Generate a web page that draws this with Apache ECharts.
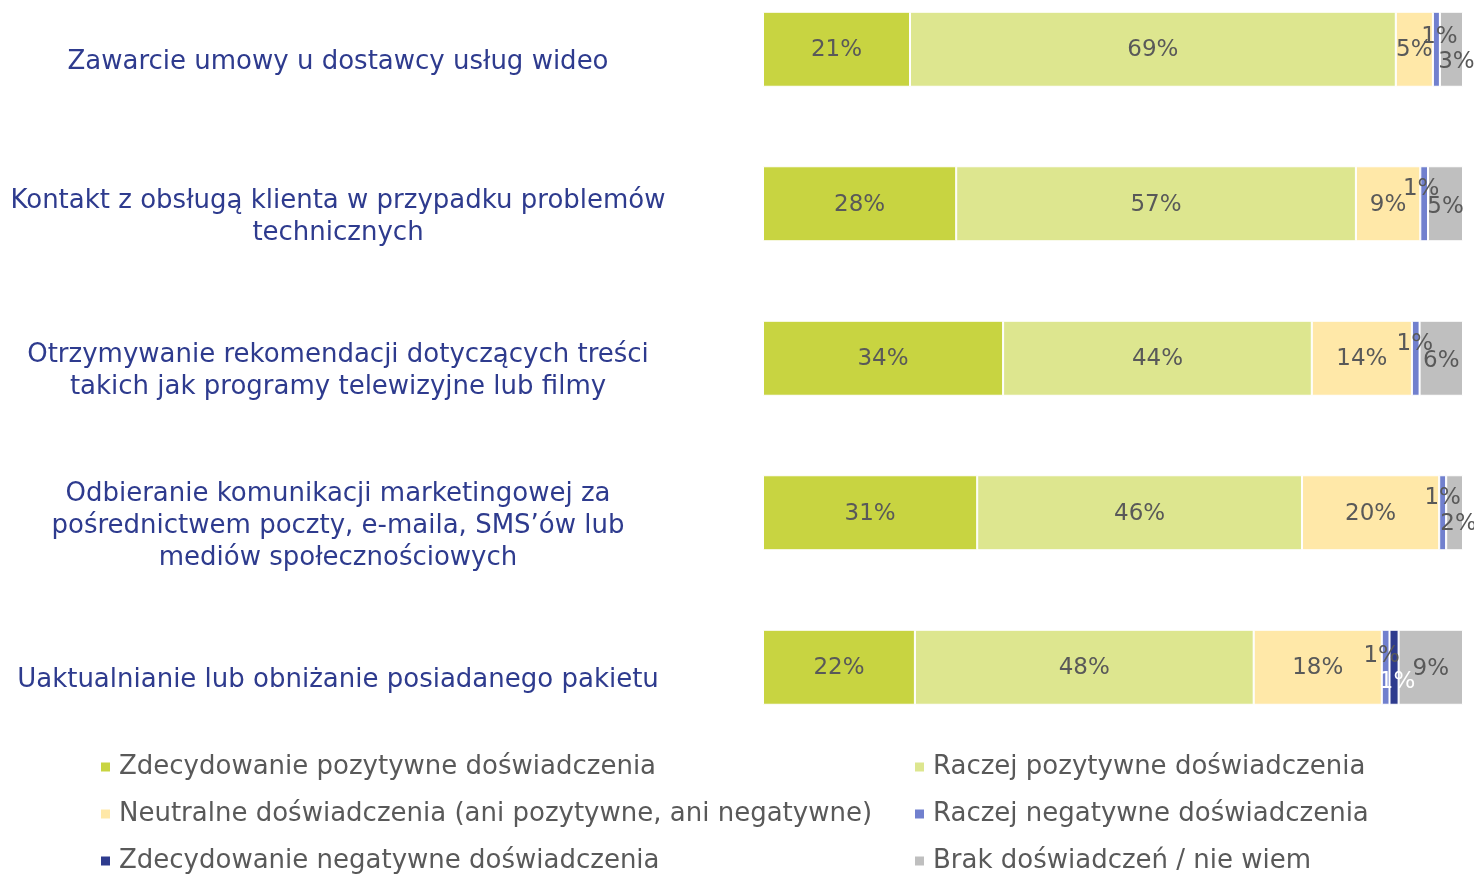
<!DOCTYPE html>
<html>
<head>
<meta charset="utf-8">
<script src="https://cdn.jsdelivr.net/npm/echarts@6/dist/echarts.min.js"></script>
<style>
  html, body { margin: 0; padding: 0; background: #ffffff; }
  #chart { width: 1474px; height: 875px; }
</style>
</head>
<body>
<div id="chart"></div>
<script>
// Survey items (top to bottom)
const categories = [
  'Zawarcie umowy u dostawcy usług wideo',
  'Kontakt z obsługą klienta w przypadku problemów\ntechnicznych',
  'Otrzymywanie rekomendacji dotyczących treści\ntakich jak programy telewizyjne lub filmy',
  'Odbieranie komunikacji marketingowej za\npośrednictwem poczty, e-maila, SMS’ów lub\nmediów społecznościowych',
  'Uaktualnianie lub obniżanie posiadanego pakietu'
];

const seriesNames = [
  'Zdecydowanie pozytywne doświadczenia',
  'Raczej pozytywne doświadczenia',
  'Neutralne doświadczenia (ani pozytywne, ani negatywne)',
  'Raczej negatywne doświadczenia',
  'Zdecydowanie negatywne doświadczenia',
  'Brak doświadczeń / nie wiem'
];

// Shares in percent, one value per survey item
const veryPositive   = [21.0, 27.6, 34.3, 30.6, 21.7];
const ratherPositive = [69.4, 57.1, 44.1, 46.4, 48.4];
const neutral        = [5.3, 9.2, 14.3, 19.6, 18.3];
const ratherNegative = [1.0, 1.1, 1.1, 1.0, 1.1];
const veryNegative   = [0, 0, 0, 0, 1.3];
const noExperience   = [3.3, 5.0, 6.2, 2.4, 9.2];

const seriesValues = [veryPositive, ratherPositive, neutral, ratherNegative, veryNegative, noExperience];

const colors = ['#C8D441', '#DDE68F', '#FFE8A8', '#7180CE', '#2E3B8E', '#BFBFBF'];
const FONT = 'DejaVu Sans';

// Nudges for labels of the thin segments so they do not overlap
const labelShift = {
  3: [[3, -13], [-3, -16], [-1, -15], [0, -16], [-4, -12]],
  4: [null, null, null, null, [3, 14]],
  5: [[5, 12], [0, 2], [0, 2], [4, 10], [0, 1]]
};

const series = seriesValues.map((vals, si) => ({
  name: seriesNames[si],
  type: 'bar',
  stack: 'total',
  barWidth: 75,
  xAxisIndex: 0,
  yAxisIndex: 0,
  itemStyle: { color: colors[si], borderColor: '#ffffff', borderWidth: 1 },
  label: {
    show: true,
    position: 'inside',
    fontFamily: FONT,
    fontSize: 23,
    color: si === 4 ? '#ffffff' : '#595959',
    formatter: p => (p.value > 0 ? Math.round(p.value) + '%' : '')
  },
  labelLayout: p => {
    const s = labelShift[si] && labelShift[si][p.dataIndex];
    return s ? { dx: s[0], dy: s[1] + 1 } : { dy: 1 };
  },
  data: vals
}));

// Legend: two columns, three rows
const legendCols = [99, 913];
const legendRows = [752, 799, 846];
const legends = seriesNames.map((name, i) => ({
  data: [name],
  left: legendCols[i % 2],
  top: legendRows[Math.floor(i / 2)],
  itemWidth: 11,
  itemHeight: 11,
  icon: 'rect',
  selectedMode: false,
  padding: 0,
  textStyle: {
    fontFamily: FONT, fontSize: 26, color: '#595959',
    lineHeight: 30, padding: [0, 0, 0, 3]
  }
}));

const chart = echarts.init(document.getElementById('chart'));
chart.setOption({
  animation: false,
  color: colors,
  grid: [
    // bars
    { left: 763, width: 700, top: -28, height: 772.5, outerBoundsMode: 'none', containLabel: false },
    // item names, set slightly lower than the bar centres
    { left: 763, width: 700, top: -15, height: 772.5, outerBoundsMode: 'none', containLabel: false }
  ],
  xAxis: [
    { gridIndex: 0, type: 'value', min: 0, max: 100, show: false },
    { gridIndex: 1, type: 'value', min: 0, max: 100, show: false }
  ],
  yAxis: [
    { gridIndex: 0, type: 'category', inverse: true, data: categories, show: false },
    {
      gridIndex: 1,
      type: 'category',
      inverse: true,
      data: categories,
      axisLine: { show: false },
      axisTick: { show: false },
      axisLabel: {
        margin: 425,
        align: 'center',
        fontFamily: FONT,
        fontSize: 26,
        lineHeight: 32,
        color: '#2E3B8E'
      }
    }
  ],
  legend: legends,
  series: series
});
</script>
</body>
</html>
